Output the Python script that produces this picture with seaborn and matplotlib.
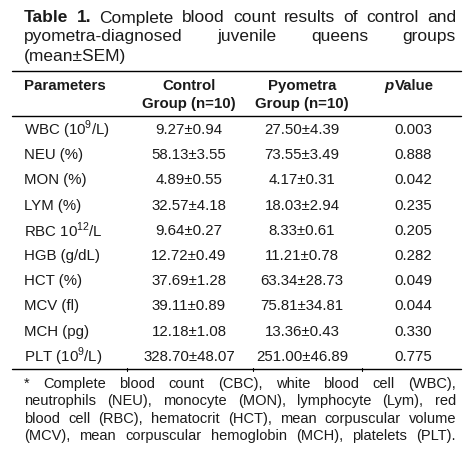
import matplotlib
matplotlib.use("Agg")
import matplotlib.pyplot as plt
import seaborn as sns

parametros = ["WBC (10$^{9}$/L)", "NEU (%)", "MON (%)", "LYM (%)", "RBC 10$^{12}$/L",
              "HGB (g/dL)", "HCT (%)", "MCV (fl)", "MCH (pg)", "PLT (10$^{9}$/L)"]
control = ["9.27±0.94", "58.13±3.55", "4.89±0.55", "32.57±4.18", "9.64±0.27",
           "12.72±0.49", "37.69±1.28", "39.11±0.89", "12.18±1.08", "328.70±48.07"]
piometra = ["27.50±4.39", "73.55±3.49", "4.17±0.31", "18.03±2.94", "8.33±0.61",
            "11.21±0.78", "63.34±28.73", "75.81±34.81", "13.36±0.43", "251.00±46.89"]
p_valor = ["0.003", "0.888", "0.042", "0.235", "0.205",
           "0.282", "0.049", "0.044", "0.330", "0.775"]

titulo = [[("Table", "bold"), ("1.", "bold"), ("Complete", "normal"), ("blood", "normal"),
           ("count", "normal"), ("results", "normal"), ("of", "normal"), ("control", "normal"), ("and", "normal")],
          [("pyometra-diagnosed", "normal"), ("juvenile", "normal"), ("queens", "normal"), ("groups", "normal")],
          [("(mean±SEM)", "normal")]]
nota = ["* Complete blood count (CBC), white blood cell (WBC),",
        "neutrophils (NEU), monocyte (MON), lymphocyte (Lym), red",
        "blood cell (RBC), hematocrit (HCT), mean corpuscular volume",
        "(MCV), mean corpuscular hemoglobin (MCH), platelets (PLT)."]

sns.set_theme(style="white")
plt.rcParams['font.family'] = ['Liberation Sans', 'DejaVu Sans']
plt.rcParams['mathtext.fontset'] = 'custom'
plt.rcParams['mathtext.rm'] = 'Liberation Sans'

COLOR = "#1a1a1a"
fig = plt.figure(figsize=(4.74, 4.52), dpi=100)
ax = fig.add_axes([0, 0, 1, 1])
ax.set_xlim(0, 474)
ax.set_ylim(452, 0)
ax.axis("off")
renderer = fig.canvas.get_renderer()


def ancho(txt, size, weight):
    t = ax.text(0, 0, txt, fontsize=size, fontweight=weight)
    w = t.get_window_extent(renderer).width
    t.remove()
    return w


def justificar(palabras, y, x0, x1, size, ultima=False):
    anchos = [ancho(p, size, w) for p, w in palabras]
    if ultima or len(palabras) == 1:
        hueco = ancho(" ", size, "normal")
    else:
        hueco = (x1 - x0 - sum(anchos)) / (len(palabras) - 1)
    x = x0
    for (p, w), a in zip(palabras, anchos):
        ax.text(x, y, p, fontsize=size, fontweight=w, va="center", color=COLOR)
        x += a + hueco


# Titulo
for i, linea in enumerate(titulo):
    justificar(linea, 18 + i * 19, 24, 456, 12.5, ultima=(i == len(titulo) - 1))

# Lineas horizontales
for y in (72, 117, 370):
    ax.plot([12, 461], [y, y], color="black", lw=1)
for x in (127, 253, 362):
    ax.plot([x, x], [369, 372], color="black", lw=0.8)

FS = 10.8
# Cabecera
ax.text(24, 86, "Parameters", fontsize=FS, fontweight="bold", va="center", color=COLOR)
ax.text(189, 95, "Control\nGroup (n=10)", fontsize=FS, fontweight="bold",
        va="center", ha="center", linespacing=1.45, color=COLOR)
ax.text(302, 95, "Pyometra\nGroup (n=10)", fontsize=FS, fontweight="bold",
        va="center", ha="center", linespacing=1.45, color=COLOR)
ax.text(384, 86, "p", fontsize=FS, fontweight="bold", fontstyle="italic", va="center", color=COLOR)
ax.text(395, 86, "Value", fontsize=FS, fontweight="bold", va="center", ha="left", color=COLOR)

# Filas
for i in range(len(parametros)):
    y = 130 + i * 25.2
    ax.text(24, y, parametros[i], fontsize=FS, va="center", color=COLOR)
    ax.text(189, y, control[i], fontsize=FS, va="center", ha="center", color=COLOR)
    ax.text(302, y, piometra[i], fontsize=FS, va="center", ha="center", color=COLOR)
    ax.text(413, y, p_valor[i], fontsize=FS, va="center", ha="center", color=COLOR)

# Nota al pie
for i, linea in enumerate(nota):
    palabras = [(p, "normal") for p in linea.split(" ")]
    justificar(palabras, 384 + i * 17.5, 24, 456, 10.5)

fig.savefig("out.png", dpi=100, facecolor="white")
